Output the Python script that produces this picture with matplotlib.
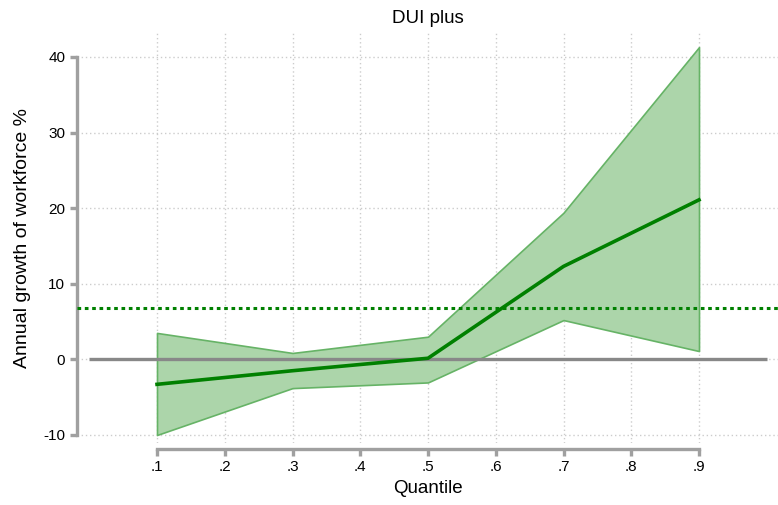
import matplotlib
matplotlib.use("Agg")
import matplotlib.pyplot as plt

quantiles = [0.1, 0.3, 0.5, 0.7, 0.9]
estimate = [-3.3, -1.5, 0.15, 12.3, 21.1]
ci_upper = [3.5, 0.85, 3.0, 19.4, 41.3]
ci_lower = [-10.0, -3.8, -3.05, 5.2, 1.1]
ols_value = 6.8
xticks = [0.1, 0.2, 0.3, 0.4, 0.5, 0.6, 0.7, 0.8, 0.9]
xticklabels = [".1", ".2", ".3", ".4", ".5", ".6", ".7", ".8", ".9"]
yticks = [-10, 0, 10, 20, 30, 40]

plt.rcParams['font.family'] = ['Liberation Sans', 'DejaVu Sans']
plt.rcParams['axes.unicode_minus'] = False

fig = plt.figure(figsize=(7.78, 5.05), dpi=100)
ax = fig.add_axes([77/778, 1-443/505, 1-77/778, (443-33)/505])
ax.set_xlim(-0.0181, 1.0166)
ax.set_ylim(-11.06, 43.17)

gridc = '#cccccc'
for t in xticks:
    ax.axvline(t, color=gridc, lw=1.0, ls=(0, (1, 2)), zorder=0)
for t in yticks:
    ax.axhline(t, color=gridc, lw=1.0, ls=(0, (1, 2)), zorder=0)

ax.fill_between(quantiles, ci_lower, ci_upper, facecolor='#acd5aa', edgecolor='#66b366', lw=1.2, zorder=2)
ax.plot([0, 1], [0, 0], color='#888888', lw=2.4, zorder=3, solid_capstyle='butt')
ax.plot(quantiles, estimate, color='#008000', lw=2.6, zorder=4)
ax.axhline(ols_value, color='#008000', lw=2.2, ls=(0, (1.2, 1.2)), zorder=4)

for s in ['top', 'right']:
    ax.spines[s].set_visible(False)
spc = '#a0a0a0'
ax.spines['left'].set_color(spc)
ax.spines['left'].set_linewidth(2.4)
ax.spines['left'].set_bounds(-10, 40)
ax.spines['bottom'].set_color(spc)
ax.spines['bottom'].set_linewidth(2.4)
ax.spines['bottom'].set_bounds(0.1, 0.9)
ax.spines['bottom'].set_position(('outward', 4))

ax.set_xticks(xticks)
ax.set_xticklabels(xticklabels)
ax.set_yticks(yticks)
ax.tick_params(axis='both', colors=spc, width=2.4, length=5, labelcolor='black', labelsize=11)

ax.set_title("DUI plus", fontsize=13.5, pad=7)
ax.set_xlabel("Quantile", fontsize=13.5, labelpad=4)
ax.set_ylabel("Annual growth of workforce %", fontsize=14, labelpad=9)

fig.savefig("out.png", dpi=100)
